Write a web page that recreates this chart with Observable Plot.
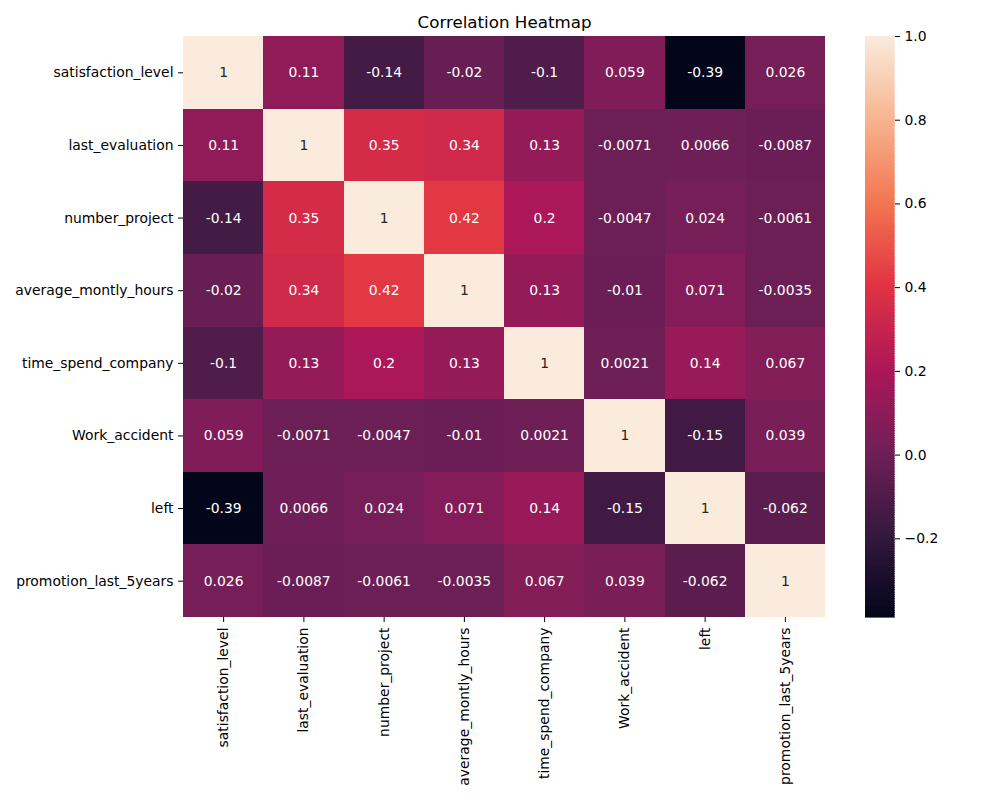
<!DOCTYPE html>
<html>
<head>
<meta charset="utf-8">
<script src="https://cdn.jsdelivr.net/npm/d3@7"></script>
<script src="https://cdn.jsdelivr.net/npm/@observablehq/plot@0.6"></script>
<style>
  html, body { margin: 0; padding: 0; background: white; }
  #wrap { position: relative; width: 1000px; height: 800px; }
  #wrap > svg { position: absolute; top: 0; left: 0; }
</style>
</head>
<body>
<div id="wrap"></div>
<script>
const variables = ["satisfaction_level", "last_evaluation", "number_project", "average_montly_hours",
  "time_spend_company", "Work_accident", "left", "promotion_last_5years"];

const row_satisfaction_level   = [1, 0.11, -0.14, -0.02, -0.1, 0.059, -0.388, 0.026];
const row_last_evaluation      = [0.11, 1, 0.35, 0.34, 0.13, -0.0071, 0.0066, -0.0087];
const row_number_project       = [-0.14, 0.35, 1, 0.42, 0.2, -0.0047, 0.024, -0.0061];
const row_average_montly_hours = [-0.02, 0.34, 0.42, 1, 0.13, -0.01, 0.071, -0.0035];
const row_time_spend_company   = [-0.1, 0.13, 0.2, 0.13, 1, 0.0021, 0.14, 0.067];
const row_Work_accident        = [0.059, -0.0071, -0.0047, -0.01, 0.0021, 1, -0.15, 0.039];
const row_left                 = [-0.388, 0.0066, 0.024, 0.071, 0.14, -0.15, 1, -0.062];
const row_promotion            = [0.026, -0.0087, -0.0061, -0.0035, 0.067, 0.039, -0.062, 1];

const matrixRows = [row_satisfaction_level, row_last_evaluation, row_number_project, row_average_montly_hours,
  row_time_spend_company, row_Work_accident, row_left, row_promotion];

const colorbarTicks = [-0.2, 0.0, 0.2, 0.4, 0.6, 0.8, 1.0];
const rocketStops = ["#03051a", "#35193e", "#701f57", "#ad1759", "#e13342", "#f37651", "#f6b48f", "#faebdd"];
const title = "Correlation Heatmap";

const cells = [];
matrixRows.forEach((r, i) => r.forEach((v, j) => cells.push({row: variables[i], col: variables[j], value: v})));

const vmin = d3.min(cells, d => d.value);
const vmax = d3.max(cells, d => d.value);
const interp = d3.piecewise(d3.interpolateRgb, rocketStops);
const colorFn = v => interp((v - vmin) / (vmax - vmin));
const lum = c => {
  const rgb = d3.rgb(c);
  const f = x => { x /= 255; return x <= 0.03928 ? x / 12.92 : Math.pow((x + 0.055) / 1.055, 2.4); };
  return 0.2126 * f(rgb.r) + 0.7152 * f(rgb.g) + 0.0722 * f(rgb.b);
};
const fmt = v => d3.format(".2~g")(v).replace("\u2212", "-");

const colorScale = {type: "linear", domain: [vmin, vmax], interpolate: t => interp(t)};
const font = {fontFamily: "DejaVu Sans, sans-serif", fontSize: "13.9px", background: "transparent", color: "black"};

const heat = Plot.plot({
  width: 1000, height: 800,
  marginLeft: 183, marginRight: 175, marginTop: 36, marginBottom: 183,
  style: font,
  x: {type: "band", domain: variables, padding: 0, round: false, label: null},
  y: {type: "band", domain: variables, padding: 0, round: false, label: null},
  color: colorScale,
  marks: [
    Plot.cell(cells, {x: "col", y: "row", fill: "value", inset: 0, shapeRendering: "crispEdges"}),
    Plot.text(cells, {x: "col", y: "row", text: d => fmt(d.value),
      fill: d => lum(colorFn(d.value)) > 0.408 ? "#262626" : "white", fontSize: 13.9}),
    Plot.axisX({anchor: "bottom", tickRotate: -90, tickSize: 5, tickPadding: 5, label: null, fontSize: 13.9}),
    Plot.axisY({anchor: "left", tickSize: 5, tickPadding: 5, label: null, fontSize: 13.9}),
    Plot.text([title], {frameAnchor: "top", dy: -14, lineAnchor: "middle", fontSize: 16.7, fill: "black"})
  ]
});

const N = 256;
const steps = d3.range(0, N).map(i => ({
  y1: vmin + (vmax - vmin) * i / N,
  y2: vmin + (vmax - vmin) * (i + 1) / N,
  v: vmin + (vmax - vmin) * (i + 0.5) / N
}));

const bar = Plot.plot({
  width: 1000, height: 800,
  marginLeft: 865, marginRight: 106, marginTop: 36, marginBottom: 183,
  style: font,
  x: {axis: null},
  y: {type: "linear", domain: [vmin, vmax], label: null},
  color: colorScale,
  marks: [
    Plot.rect(steps, {y1: "y1", y2: "y2", fill: "v", stroke: "v", strokeWidth: 0.6, shapeRendering: "crispEdges"}),
    Plot.axisY({anchor: "right", ticks: colorbarTicks, tickFormat: d3.format(".1f"), tickSize: 5, tickPadding: 5, label: null, fontSize: 13.9})
  ]
});

const wrap = document.getElementById("wrap");
wrap.appendChild(heat);
wrap.appendChild(bar);
</script>
</body>
</html>
